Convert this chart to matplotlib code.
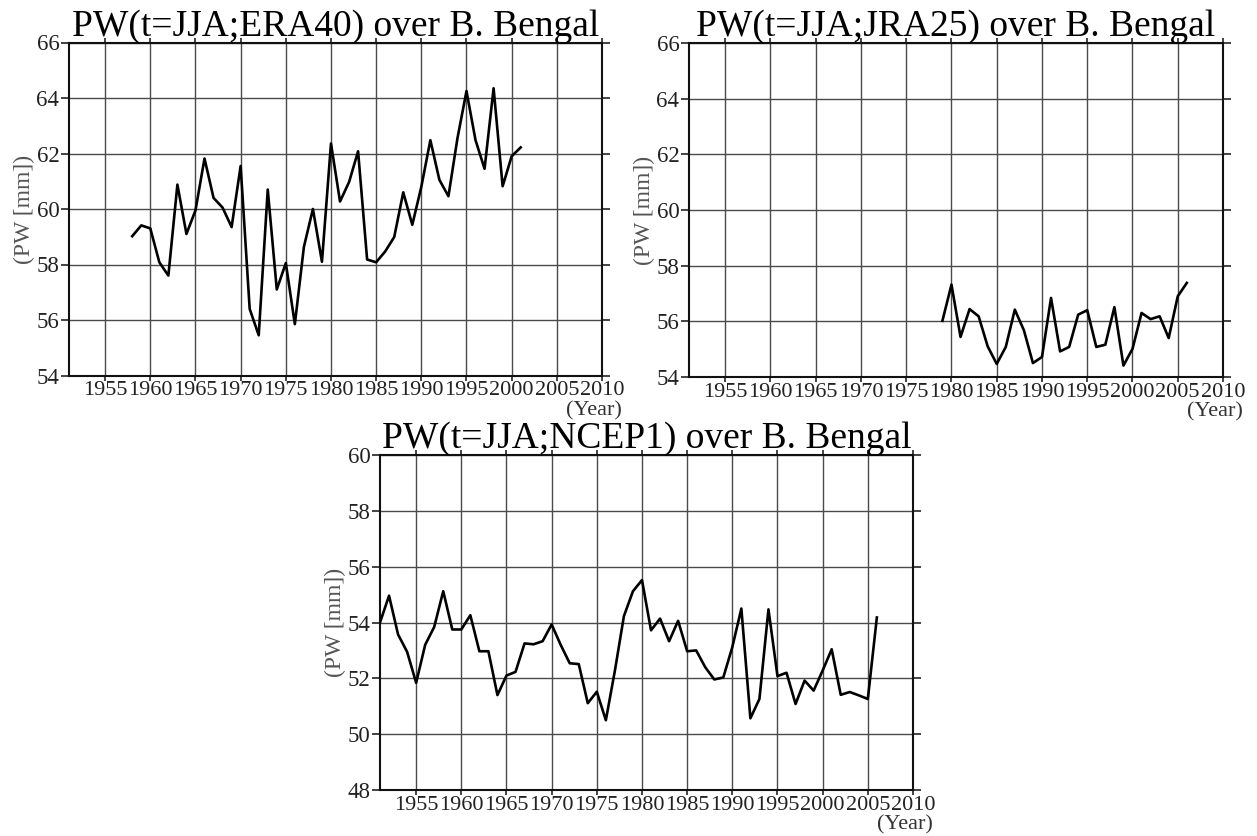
import matplotlib
matplotlib.use("Agg")
import matplotlib.pyplot as plt
import numpy as np

plt.rcParams['font.family'] = ['Liberation Serif', 'DejaVu Serif']

# ---- data ----
years_era40 = list(range(1958, 2002))
pw_era40 = [59.02, 59.41, 59.30, 58.08, 57.60, 60.88, 59.10, 59.95, 61.82, 60.40,
            60.05, 59.35, 61.55, 56.40, 55.45, 60.70, 57.10, 58.05, 55.85, 58.63,
            60.00, 58.10, 62.36, 60.27, 60.97, 62.08, 58.18, 58.08, 58.47, 58.99,
            60.60, 59.43, 60.80, 62.48, 61.05, 60.46, 62.55, 64.25, 62.48, 61.45,
            64.35, 60.82, 61.90, 62.22]

years_jra25 = list(range(1979, 2007))
pw_jra25 = [56.02, 57.32, 55.44, 56.44, 56.18, 55.10, 54.47, 55.08, 56.42, 55.68,
            54.50, 54.72, 56.84, 54.92, 55.08, 56.24, 56.40, 55.08, 55.16, 56.51,
            54.41, 55.01, 56.30, 56.08, 56.18, 55.40, 56.90, 57.38]

years_ncep1 = list(range(1951, 2007))
pw_ncep1 = [54.00, 54.96, 53.57, 52.95, 51.84, 53.20, 53.84, 55.12, 53.75, 53.75,
            54.26, 52.97, 52.97, 51.40, 52.10, 52.23, 53.25, 53.22, 53.33, 53.93,
            53.20, 52.54, 52.51, 51.11, 51.52, 50.50, 52.27, 54.23, 55.12, 55.52,
            53.72, 54.14, 53.33, 54.06, 52.97, 53.00, 52.40, 51.96, 52.03, 53.12,
            54.50, 50.57, 51.26, 54.47, 52.08, 52.20, 51.08, 51.92, 51.56, 52.28,
            53.04, 51.41, 51.51, 51.39, 51.26, 54.18]

xticks = [1955, 1960, 1965, 1970, 1975, 1980, 1985, 1990, 1995, 2000, 2005, 2010]
xtick_labels = [str(t) for t in xticks]
titles = ["PW(t=JJA;ERA40) over B. Bengal",
          "PW(t=JJA;JRA25) over B. Bengal",
          "PW(t=JJA;NCEP1) over B. Bengal"]
yticks_top = [54, 56, 58, 60, 62, 64, 66]
yticks_bottom = [48, 50, 52, 54, 56, 58, 60]
ylabel = "(PW [mm])"
xlabel = "(Year)"

W, H = 1257, 836
fig = plt.figure(figsize=(W / 100, H / 100), dpi=100)


def make_axes(left, right, top, bottom):
    return fig.add_axes([left / W, 1 - bottom / H, (right - left) / W, (bottom - top) / H])


panels = [
    (make_axes(69, 602, 42.5, 375.5), years_era40, pw_era40, titles[0], yticks_top),
    (make_axes(689, 1223, 43, 377), years_jra25, pw_jra25, titles[1], yticks_top),
    (make_axes(380, 913, 455, 790), years_ncep1, pw_ncep1, titles[2], yticks_bottom),
]

for ax, yrs, vals, title, yt in panels:
    ax.plot(yrs, vals, color='black', lw=1.9, zorder=3)
    ax.set_xlim(1951, 2010)
    ax.set_ylim(yt[0], yt[-1])
    ax.set_xticks(xticks)
    ax.set_xticklabels(xtick_labels)
    ax.set_yticks(yt)
    ax.grid(True, color='#4a4a4a', lw=1.0, zorder=1)
    for s in ax.spines.values():
        s.set_linewidth(1.5)
        s.set_color('#111111')
    ax.tick_params(axis='x', direction='out', length=3.8, width=1.1, pad=0.5,
                   labelsize=16, top=True, bottom=True, colors='#111111',
                   labelcolor='#222222')
    ax.tick_params(axis='y', direction='out', length=5.5, width=1.1, pad=1.5,
                   labelsize=16.5, left=True, right=True, colors='#111111',
                   labelcolor='#222222')
    ax.set_title(title, fontsize=27, pad=5)
    ax.set_ylabel(ylabel, fontsize=17, color='#555555', labelpad=1)
    ax.annotate(xlabel, xy=(1, 0), xycoords='axes fraction',
                xytext=(-8, -35), textcoords='offset pixels',
                ha='center', va='center', fontsize=16, color='#333333')

fig.savefig("out.png", dpi=100)
